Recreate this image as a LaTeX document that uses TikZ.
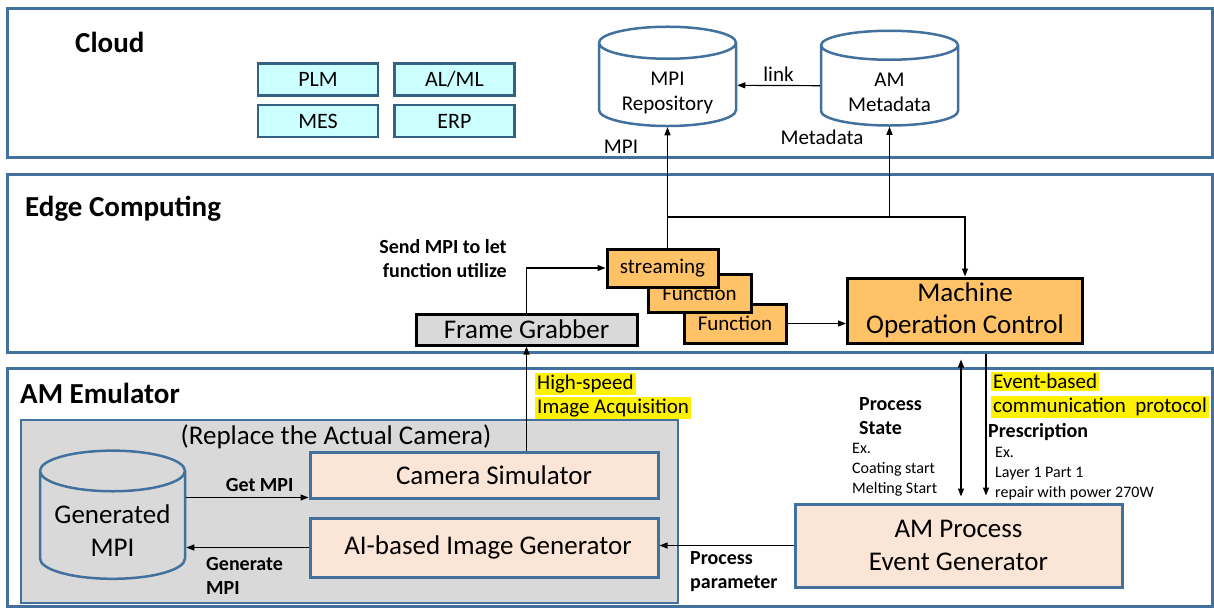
\documentclass[tikz,border=0pt]{standalone}
\usepackage{fontspec}
\setmainfont{Carlito}
\usetikzlibrary{positioning, calc, arrows.meta, shapes.geometric}
\definecolor{frameblue}{HTML}{41719C}
\definecolor{boxcyan}{HTML}{CCFFFF}
\definecolor{boxorange}{HTML}{FFC266}
\definecolor{boxpeach}{HTML}{FBE5D6}
\definecolor{boxgray}{HTML}{D9D9D9}
\setlength{\fboxsep}{2pt}
\newcommand{\yellowmark}[1]{\colorbox{yellow}{#1}}
\newcommand{\dbtext}[2]{\raisebox{-8pt}[\height][\depth]{\begin{tabular}{@{}c@{}}#1\\#2\end{tabular}}}
\tikzset{
  > = {Triangle[length = 8pt, width = 6pt]},
  connector/.style = {->, line width = 1.2pt},
  layer/.style = {draw = frameblue, line width = 3pt, inner sep = 0},
  layertitle/.style = {font = \fontsize{29}{33}\selectfont\bfseries, anchor = west, inner sep = 0},
  service/.style = {draw = frameblue!85!black, fill = boxcyan, line width = 2.5pt, inner sep = 0,
    minimum width = 120pt, minimum height = 32pt, font = \fontsize{22}{26}\selectfont},
  database/.style = {cylinder, shape border rotate = 90, aspect = 0.35, draw = frameblue,
    line width = 2.5pt, inner sep = 0, align = center, font = \fontsize{21}{25}\selectfont},
  funcbox/.style = {draw, fill = boxorange, line width = 3pt, inner sep = 0, align = center,
    font = \fontsize{21}{25}\selectfont},
  simbox/.style = {draw = frameblue, fill = boxpeach, line width = 3pt, inner sep = 0,
    align = center, font = \fontsize{27}{33}\selectfont},
  note/.style = {inner sep = 0, align = left, font = \fontsize{21}{24}\selectfont},
  boldnote/.style = {note, font = \fontsize{20}{24}\selectfont\bfseries},
  smallnote/.style = {note, font = \fontsize{16}{20}\selectfont}
}

\begin{document}
\begin{tikzpicture}[x = 1pt, y = -1pt]
\useasboundingbox (0,0) rectangle (1214,608);

%% Layers
\node [layer, minimum width = 1205pt, minimum height = 149pt] (cloud) at (609.5,82.5) {};
\node [layer, minimum width = 1205pt, minimum height = 178pt] (edge) at (609.5,263) {};
\node [layer, minimum width = 1205pt, minimum height = 238pt] (emulator) at (609.5,487) {};
\node [layertitle] (cloudtitle) at (75,42) {Cloud};
\node [layertitle] (edgetitle) at (25,209) {Edge Computing};
\node [layertitle] (emutitle) at (20,393) {AM Emulator};

%% Cloud services
\node [service] (plm) at (318,79.5) {PLM};
\node [service, right = 14pt of plm] (alml) {AL/ML};
\node [service] (mes) at (318,121) {MES};
\node [service, right = 14pt of mes] (erp) {ERP};

%% Repositories
\node [database, minimum width = 137pt, minimum height = 92pt] (mpirepo) at (667.5,85) {\dbtext{MPI}{Repository}};
\node [database, minimum width = 137pt, minimum height = 90pt] (ammeta) at (889.5,86) {\dbtext{AM}{Metadata}};
\draw [connector] (ammeta) -- node [note, above = 3pt] (linklabel) {link} (mpirepo);
\node [note] (mpilabel) at (621,147) {MPI};
\node [note] (metalabel) at (822,137) {Metadata};

%% Edge computing
\node [boldnote, align = right] (sendlabel) at (443,259) {Send MPI to let\\function utilize};
\node [draw, fill = boxgray, line width = 3pt, inner sep = 0, minimum width = 221pt, minimum height = 31pt,
  font = \fontsize{27}{32}\selectfont] (grabber) at (526.5,329.5) {Frame Grabber};
\node [funcbox, minimum width = 102pt, minimum height = 39pt] (function2) at (735,323.5) {Function};
\node [funcbox, minimum width = 103pt, minimum height = 38pt] (function1) at (699.5,293) {Function};
\node [funcbox, minimum width = 111pt, minimum height = 38pt] (streaming) at (662.5,268) {streaming};
\node [funcbox, minimum width = 235pt, minimum height = 65pt, font = \fontsize{27}{32}\selectfont]
  (control) at (965,310.5) {Machine\\Operation Control};

\draw [connector] (grabber.north) |- (streaming.west);
\draw [connector] (streaming.north -| mpirepo.south) -- (mpirepo.south);
\coordinate (bus) at (667.5,217);
\draw [connector] (bus) -| (control.north);
\draw [connector] (bus -| ammeta.south) -- (ammeta.south);
\draw [connector] (function2.east) -- (function2.east -| control.west);

%% AM emulator
\node [draw = frameblue, fill = boxgray, line width = 2.5pt, inner sep = 0, minimum width = 657pt,
  minimum height = 183pt] (camerabox) at (349.5,511.5) {};
\node [note, font = \fontsize{27}{32}\selectfont] (replacelabel) at (336,437) {(Replace the Actual Camera)};
\node [simbox, minimum width = 348pt, minimum height = 46pt] (camsim) at (484,475) {\hspace*{20pt}Camera Simulator};
\node [simbox, minimum width = 348pt, minimum height = 59pt] (aigen) at (484,547.5) {\hspace*{8pt}AI-based Image Generator};
\node [database, fill = boxgray, minimum width = 145pt, minimum height = 101pt,
  font = \fontsize{27}{33}\selectfont] (genmpi) at (112.5,525.5) {\dbtext{Generated}{MPI}};
\node [simbox, minimum width = 327pt, minimum height = 83pt] (ampeg) at (958.5,545.5) {AM Process\\Event Generator};

\draw [connector] (camsim.north -| grabber.south) -- (grabber.south);
\node [note, anchor = west] (acquisition) at (535,396) {\yellowmark{High-speed}\\\yellowmark{Image Acquisition}};

\coordinate (getin) at ([yshift = 2pt]camsim.south west);
\draw [connector] (genmpi.east |- getin) -- node [boldnote, above = 5pt, pos = 0.6] (getlabel) {Get MPI} (getin);
\draw [connector] (aigen.west) -- (aigen.west -| genmpi.east);
\node [boldnote, anchor = west] (generatelabel) at (206,576) {Generate\\MPI};

\draw [connector] (ampeg.west) -- (ampeg.west -| aigen.east);
\node [boldnote, anchor = west] (paramlabel) at (690,572) {Process\\parameter};

%% Events
\coordinate (statetop) at ([xshift = -4pt]control.south);
\draw [<->, line width = 1.2pt, shorten < = 15pt, shorten > = 6pt] (statetop) -- (statetop |- ampeg.north);
\coordinate (prescriptiontop) at ([xshift = 21pt]control.south);
\draw [connector, shorten < = 9pt, shorten > = 7pt] (prescriptiontop) -- (prescriptiontop |- ampeg.north);

\node [boldnote, anchor = west] (statelabel) at (859,416) {Process\\State};
\node [smallnote, anchor = west] (stateex) at (852,470) {Ex.\\Coating start\\Melting Start};
\node [note, anchor = west] (protocol) at (991,395) {\yellowmark{Event-based}\\\yellowmark{communication\ \ protocol}};
\node [boldnote, anchor = west] (prescriptionlabel) at (988,432) {Prescription};
\node [smallnote, anchor = west] (prescriptionex) at (995,474) {Ex.\\Layer 1 Part 1\\repair with power 270W};

\end{tikzpicture}
\end{document}
